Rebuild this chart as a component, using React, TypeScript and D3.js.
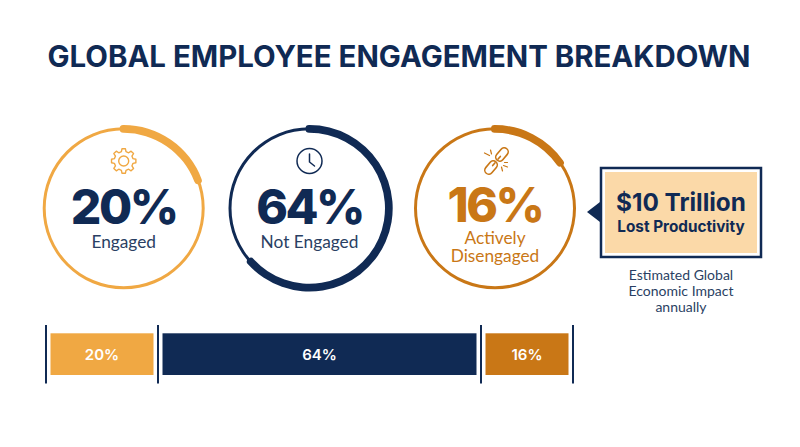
import React from "react";
import * as d3 from "d3";

const NAVY = "#102a54";
const AMBER = "#f0a843";
const COPPER = "#c97716";
const FONT = "Lato, 'Noto Sans', sans-serif";
const BOLD = "Inter, Lato, sans-serif";

const title = "GLOBAL EMPLOYEE ENGAGEMENT BREAKDOWN";
const categories = ["Engaged", "Not Engaged", "Actively Disengaged"];
const percents = [20, 64, 16];
const drawnShares = [20.6, 62.8, 16.6];
const colors = [AMBER, NAVY, COPPER];
const valueColors = [NAVY, NAVY, COPPER];
const labelColors = ["#2a3f63", "#2a3f63", COPPER];
const calloutHeadline = "$10 Trillion";
const calloutSub = "Lost Productivity";
const calloutNote = ["Estimated Global", "Economic Impact", "annually"];

const W = 800, H = 447;
const centers = [123.7, 309.5, 495];
const cy = 208.3;
const R = 79.5;

const arcThin = d3.arc<any>().innerRadius(R - 1.5).outerRadius(R + 1.5).startAngle(0).endAngle(2 * Math.PI);
const angle = d3.scaleLinear().domain([0, 100]).range([0, 2 * Math.PI]);
const arcThick = (p: number) =>
  d3.arc<any>().innerRadius(R - 4).outerRadius(R + 3.7).cornerRadius(3.5).startAngle(-0.05).endAngle(angle(p))(null) as string;

const barLeft = 50.5, gap = 9;
const x = d3.scaleLinear().domain([0, 100]).range([0, 500]);

function Gear({ cx, cy: y, color }: any) {
  const teeth = 8, ro = 12.3, ri = 9.6;
  const pts: [number, number][] = [];
  for (let i = 0; i < teeth; i++) {
    const a = (i / teeth) * 2 * Math.PI;
    const w = Math.PI / teeth;
    [[-0.62, ri], [-0.36, ro], [0.36, ro], [0.62, ri]].forEach(([k, r]) =>
      pts.push([Math.sin(a + k * w) * r, -Math.cos(a + k * w) * r]));
  }
  return (
    <g transform={`translate(${cx},${y})`} fill="none" stroke={color} strokeWidth={1.4}>
      <path d={d3.line().curve(d3.curveLinearClosed)(pts) as string} strokeLinejoin="round" />
      <circle r={5} />
    </g>
  );
}

function Clock({ cx, cy: y, color }: any) {
  return (
    <g transform={`translate(${cx},${y})`} fill="none" stroke={color} strokeWidth={1.5} strokeLinecap="round">
      <circle r={12.5} />
      <path d="M0,-7 L0,1 L5,5" />
    </g>
  );
}

function BrokenLink({ cx, cy: y, color }: any) {
  return (
    <g transform={`translate(${cx},${y})`} fill="none" stroke={color} strokeWidth={1.6} strokeLinecap="round">
      <g transform="rotate(40)">
        <rect x={-4} y={-16} width={8} height={15} rx={4} />
        <rect x={-4} y={1} width={8} height={15} rx={4} />
        <path d="M0,-6 L0,-2.5 M0,2.5 L0,6" />
      </g>
      <path d="M-6,-11 L-5,-7 M-12,-8 L-7,-5.5 M6,10 L5,6 M11,6 L7,4.5 M11,1.5 L8,1.5" strokeWidth={1.2} />
    </g>
  );
}

const icons = [Gear, Clock, BrokenLink];

export default function App() {
  let cursor = barLeft;
  const segs = drawnShares.map((s) => {
    const seg = { x0: cursor, w: x(s) };
    cursor += seg.w + gap;
    return seg;
  });
  const ticks = [segs[0].x0 - gap / 2, ...segs.map((s) => s.x0 + s.w + gap / 2)];

  return (
    <svg width={W} height={H} viewBox={`0 0 ${W} ${H}`} style={{ position: "absolute", left: 0, top: 0, background: "#fff" }}>
      <text x={399} y={67} textAnchor="middle" fontFamily={BOLD} fontWeight={700} fontSize={29.4} fill={NAVY}>{title}</text>

      {categories.map((c, i) => {
        const Icon = icons[i];
        const cx = centers[i];
        const lines = c === "Actively Disengaged" ? ["Actively", "Disengaged"] : [c];
        return (
          <g key={c}>
            <g transform={`translate(${cx},${cy})`}>
              <path d={arcThin(null) as string} fill={colors[i]} />
              <path d={arcThick(percents[i])} fill={colors[i]} />
            </g>
            <Icon cx={i === 2 ? cx + 1.5 : cx} cy={161} color={colors[i]} />
            <text x={cx} y={i === 2 ? 221.5 : 223.5} textAnchor="middle" fontFamily={BOLD} fontWeight={800} fontSize={48} letterSpacing={-2.5} fill={valueColors[i]}>{percents[i]}%</text>
            {lines.map((l, k) => (
              <text key={l} x={cx} y={(i === 2 ? 244 : 248) + k * 17.5} textAnchor="middle" fontFamily={FONT} fontSize={17.3} fill={labelColors[i]}>{l}</text>
            ))}
          </g>
        );
      })}

      <path d="M587,212 L600,202 L600,222 Z" fill={NAVY} />
      <rect x={601} y={168} width={160} height={89} fill="#fff" stroke={NAVY} strokeWidth={2.5} />
      <rect x={605} y={172} width={152} height={81} fill="#fbd9a8" />
      <text x={681} y={211} textAnchor="middle" fontFamily={BOLD} fontWeight={700} fontSize={24.3} fill={NAVY}>{calloutHeadline}</text>
      <text x={681} y={232} textAnchor="middle" fontFamily={BOLD} fontWeight={700} fontSize={15.3} fill={NAVY}>{calloutSub}</text>
      {calloutNote.map((l, k) => (
        <text key={l} x={681} y={280 + k * 16} textAnchor="middle" fontFamily={FONT} fontSize={14} fill="#2a3f63">{l}</text>
      ))}

      {segs.map((s, i) => (
        <g key={i}>
          <rect x={s.x0} y={333.3} width={s.w} height={41.7} fill={colors[i]} />
          <text x={s.x0 + s.w / 2} y={360} textAnchor="middle" fontFamily={BOLD} fontWeight={600} fontSize={15} fill="#fff">{percents[i]}%</text>
        </g>
      ))}
      {ticks.map((t, i) => (
        <line key={i} x1={t} x2={t} y1={325} y2={383.5} stroke={NAVY} strokeWidth={2} />
      ))}
    </svg>
  );
}
